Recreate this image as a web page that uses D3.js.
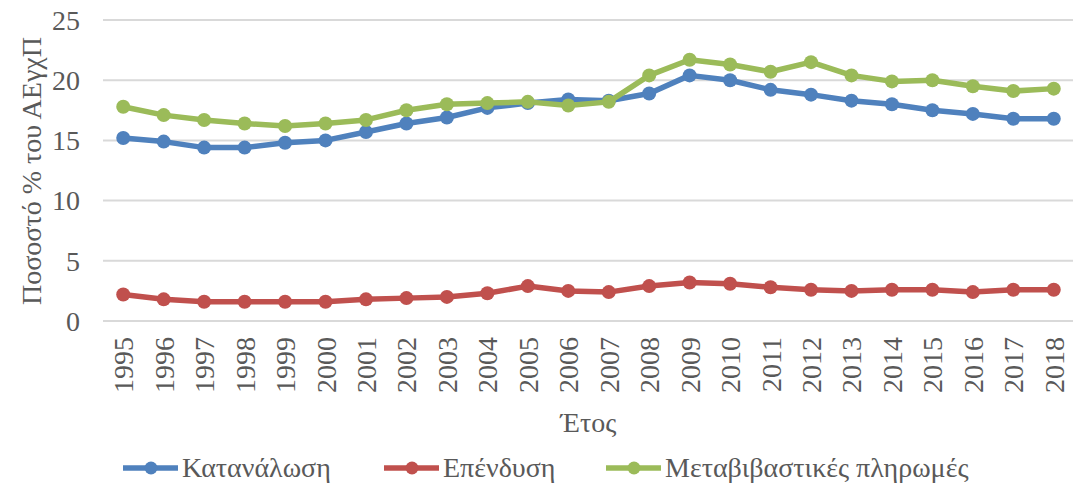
<!DOCTYPE html>
<html>
<head>
<meta charset="utf-8">
<script src="https://cdn.jsdelivr.net/npm/d3@7"></script>
<style>
  body { margin: 0; background: #fff; }
  svg text { font-family: "Liberation Serif", "DejaVu Serif", serif; fill: #595959; }
</style>
</head>
<body>
<div class="chart"></div>
<script>
// data
const years = ["1995","1996","1997","1998","1999","2000","2001","2002","2003","2004","2005","2006",
               "2007","2008","2009","2010","2011","2012","2013","2014","2015","2016","2017","2018"];
const consumption = [15.2,14.9,14.4,14.4,14.8,15.0,15.7,16.4,16.9,17.7,18.1,18.4,
                     18.3,18.9,20.4,20.0,19.2,18.8,18.3,18.0,17.5,17.2,16.8,16.8];
const investment = [2.2,1.8,1.6,1.6,1.6,1.6,1.8,1.9,2.0,2.3,2.9,2.5,
                    2.4,2.9,3.2,3.1,2.8,2.6,2.5,2.6,2.6,2.4,2.6,2.6];
const transfers = [17.8,17.1,16.7,16.4,16.2,16.4,16.7,17.5,18.0,18.1,18.2,17.9,
                   18.2,20.4,21.7,21.3,20.7,21.5,20.4,19.9,20.0,19.5,19.1,19.3];
const seriesNames = ["Κατανάλωση","Επένδυση","Μεταβιβαστικές πληρωμές"];
const yTicks = [0,5,10,15,20,25];
const yTitle = "Ποσοστό % του ΑΕγχΠ";
const xTitle = "Έτος";

const colors = ["#4f81bd","#c0504d","#9bbb59"];
const series = [consumption, investment, transfers].map((v,i)=>({name:seriesNames[i], values:v, color:colors[i]}));

const W = 1073, H = 494;
const fontSize = "28px";
const svg = d3.select(".chart").append("svg").attr("width",W).attr("height",H);

const plot = {left:103, right:1074, top:20, bottom:321};
const x = d3.scaleBand().domain(years).range([plot.left,plot.right]);
const y = d3.scaleLinear().domain([0,25]).range([plot.bottom,plot.top]);
const cx = d => x(d) + x.bandwidth()/2;

// gridlines
svg.append("g").selectAll("line")
    .data(yTicks)
    .join("line")
    .attr("x1",plot.left).attr("x2",plot.right)
    .attr("y1",d=>y(d)).attr("y2",d=>y(d))
    .attr("stroke","#d9d9d9").attr("stroke-width",2);

// y tick labels
svg.append("g").selectAll("text")
    .data(yTicks)
    .join("text")
    .attr("x",80).attr("y",d=>y(d))
    .attr("dy","0.35em")
    .style("text-anchor","end")
    .style("font-size",fontSize)
    .text(d=>d);

// x tick labels (rotated)
svg.append("g").selectAll("text")
    .data(years)
    .join("text")
    .attr("transform",d=>`translate(${cx(d)+10},337) rotate(-90)`)
    .style("text-anchor","end")
    .style("font-size",fontSize)
    .text(d=>d);

// axis titles
svg.append("text")
    .attr("transform",`translate(41,171) rotate(-90)`)
    .style("text-anchor","middle")
    .style("font-size",fontSize)
    .text(yTitle);
svg.append("text")
    .attr("x",(plot.left+plot.right)/2).attr("y",432)
    .style("text-anchor","middle")
    .style("font-size",fontSize)
    .text(xTitle);

// lines + markers
const line = d3.line().x((d,i)=>cx(years[i])).y(d=>y(d));
const groups = svg.append("g").selectAll("g")
    .data(series)
    .join("g");
groups.append("path")
    .attr("d",d=>line(d.values))
    .attr("fill","none")
    .attr("stroke",d=>d.color)
    .attr("stroke-width",5.5)
    .attr("stroke-linejoin","round");
groups.selectAll("circle")
    .data(d=>d.values.map(v=>({v:v,color:d.color})))
    .join("circle")
    .attr("cx",(d,i)=>cx(years[i]))
    .attr("cy",d=>y(d.v))
    .attr("r",7)
    .attr("fill",d=>d.color);

// legend
const legendX = [123,384,606];
const legend = svg.append("g").selectAll("g")
    .data(series)
    .join("g")
    .attr("transform",(d,i)=>`translate(${legendX[i]},468)`);
legend.append("line")
    .attr("x1",0).attr("x2",55).attr("y1",0).attr("y2",0)
    .attr("stroke",d=>d.color).attr("stroke-width",5.5);
legend.append("circle")
    .attr("cx",28).attr("cy",0).attr("r",6.5)
    .attr("fill",d=>d.color);
legend.append("text")
    .attr("x",59).attr("y",0).attr("dy","0.33em")
    .style("font-size",fontSize)
    .text(d=>d.name);
</script>
</body>
</html>
